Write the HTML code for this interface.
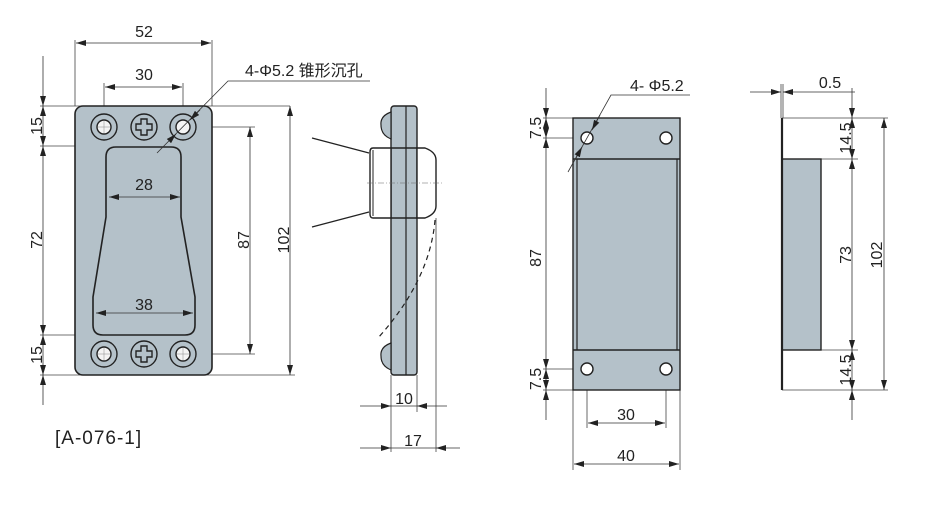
<!DOCTYPE html>
<html><head><meta charset="utf-8"><style>
html,body{margin:0;padding:0;background:#fff;}
svg{display:block}
text{font-family:"Liberation Sans","Noto Sans CJK SC",sans-serif;fill:#222;font-size:16px}
</style></head><body>
<svg width="926" height="523" viewBox="0 0 926 523" xmlns="http://www.w3.org/2000/svg">
<defs>
<marker id="a" viewBox="0 0 10 6" refX="10" refY="3" markerWidth="10" markerHeight="6" orient="auto-start-reverse" markerUnits="userSpaceOnUse"><path d="M0,0 L10,3 L0,6z" fill="#222"/></marker>
</defs>
<g stroke="#444" stroke-width="0.8" fill="none">
<line x1="75" y1="40" x2="75" y2="106"/><line x1="212" y1="40" x2="212" y2="106"/>
<line x1="104" y1="83" x2="104" y2="120"/><line x1="183" y1="83" x2="183" y2="120"/>
<line x1="40" y1="106" x2="290" y2="106"/><line x1="40" y1="146" x2="108" y2="146"/>
<line x1="40" y1="335" x2="93" y2="335"/><line x1="40" y1="375" x2="295" y2="375"/>
<line x1="183" y1="127" x2="255" y2="127"/><line x1="183" y1="354" x2="255" y2="354"/>
</g>
<rect x="75" y="106" width="137" height="269" rx="8" fill="#b4c1c9" stroke="#222" stroke-width="1.6"/>
<path d="M116,147 H171 Q181,147 181,157 V217 L195,297 V325 Q195,335 185,335 H103 Q93,335 93,325 V297 L106,217 V157 Q106,147 116,147Z" fill="#b4c1c9" stroke="#222" stroke-width="1.6"/>
<g stroke="#222" stroke-width="1.4" fill="#b4c1c9">
<circle cx="104" cy="127" r="13"/><circle cx="144" cy="127" r="13"/><circle cx="183" cy="127" r="13"/>
<circle cx="104" cy="354" r="13"/><circle cx="144" cy="354" r="13"/><circle cx="183" cy="354" r="13"/>
<circle cx="104" cy="127" r="7" fill="#f4f4f4"/><circle cx="183" cy="127" r="7" fill="#f4f4f4"/>
<circle cx="104" cy="354" r="7" fill="#f4f4f4"/><circle cx="183" cy="354" r="7" fill="#f4f4f4"/>
<path d="M141,119 h6 v5 h5 v6 h-5 v5 h-6 v-5 h-5 v-6 h5z"/>
<path d="M141,346 h6 v5 h5 v6 h-5 v5 h-6 v-5 h-5 v-6 h5z"/>
</g>
<g stroke="#888" stroke-width="0.5">
<line x1="104" y1="121" x2="104" y2="133"/><line x1="98" y1="127" x2="110" y2="127"/>
<line x1="104" y1="348" x2="104" y2="360"/><line x1="98" y1="354" x2="110" y2="354"/>
<line x1="183" y1="348" x2="183" y2="360"/><line x1="177" y1="354" x2="189" y2="354"/>
</g>
<g stroke="#333" stroke-width="0.8" fill="none">
<line x1="76" y1="43" x2="211" y2="43" marker-start="url(#a)" marker-end="url(#a)"/>
<line x1="105" y1="87" x2="182" y2="87" marker-start="url(#a)" marker-end="url(#a)"/>
<line x1="109" y1="197" x2="180" y2="197" marker-start="url(#a)" marker-end="url(#a)"/>
<line x1="96" y1="313" x2="193" y2="313" marker-start="url(#a)" marker-end="url(#a)"/>
<line x1="43" y1="56" x2="43" y2="106" marker-end="url(#a)"/>
<line x1="43" y1="106" x2="43" y2="146" marker-start="url(#a)" marker-end="url(#a)"/>
<line x1="43" y1="146" x2="43" y2="335" marker-start="url(#a)" marker-end="url(#a)"/>
<line x1="43" y1="335" x2="43" y2="375" marker-start="url(#a)" marker-end="url(#a)"/>
<line x1="43" y1="375" x2="43" y2="405" marker-start="url(#a)"/>
<line x1="250" y1="127" x2="250" y2="354" marker-start="url(#a)" marker-end="url(#a)"/>
<line x1="290" y1="106" x2="290" y2="375" marker-start="url(#a)" marker-end="url(#a)"/>
<polyline points="157,153 228,81 370,81"/>
<line x1="200" y1="110" x2="190" y2="120" marker-end="url(#a)"/>
<line x1="170" y1="140" x2="176" y2="134" marker-end="url(#a)"/>
</g>
<text x="144" y="37" text-anchor="middle">52</text>
<text x="144" y="80" text-anchor="middle">30</text>
<text x="144" y="190" text-anchor="middle">28</text>
<text x="144" y="310" text-anchor="middle">38</text>
<text x="245" y="76">4-Φ5.2 锥形沉孔</text>
<text transform="translate(42,126) rotate(-90)" text-anchor="middle">15</text>
<text transform="translate(42,240) rotate(-90)" text-anchor="middle">72</text>
<text transform="translate(42,355) rotate(-90)" text-anchor="middle">15</text>
<text transform="translate(249,240) rotate(-90)" text-anchor="middle">87</text>
<text transform="translate(289,240) rotate(-90)" text-anchor="middle">102</text>
<text x="55" y="444" style="font-size:19px;letter-spacing:1px">[A-076-1]</text>

<g stroke="#444" stroke-width="0.8" fill="none">
<line x1="391" y1="375" x2="391" y2="452"/><line x1="417" y1="375" x2="417" y2="412"/>
<line x1="436" y1="218" x2="436" y2="452"/>
</g>
<rect x="391" y="106" width="26" height="269" rx="3" fill="#b4c1c9" stroke="#222" stroke-width="1.4"/>
<line x1="406" y1="106" x2="406" y2="375" stroke="#222" stroke-width="1.2"/>
<path d="M391,112 Q380,116 381,125 Q381,135 391,139Z" fill="#b4c1c9" stroke="#222" stroke-width="1.2"/>
<path d="M391,343 Q380,347 381,356 Q381,366 391,370Z" fill="#b4c1c9" stroke="#222" stroke-width="1.2"/>
<path d="M373,148 H391 V218 H373 Q370,218 370,214 V152 Q370,148 373,148Z" fill="#fff" stroke="#222" stroke-width="1.4"/>
<line x1="373" y1="150" x2="373" y2="216" stroke="#222" stroke-width="1"/>
<path d="M417,148 H425 Q436,152 436,160 V206 Q436,214 425,218 H417Z" fill="#fff" stroke="#222" stroke-width="1.4"/>
<line x1="391" y1="148" x2="417" y2="148" stroke="#222" stroke-width="1.4"/>
<line x1="391" y1="218" x2="417" y2="218" stroke="#222" stroke-width="1.4"/>
<line x1="312" y1="138" x2="369" y2="153" stroke="#222" stroke-width="1.2"/>
<line x1="312" y1="227" x2="369" y2="212" stroke="#222" stroke-width="1.2"/>
<line x1="367" y1="183" x2="442" y2="183" stroke="#666" stroke-width="0.6" stroke-dasharray="6,2,1,2"/>
<path d="M435,220 Q430,280 378,338" stroke="#222" stroke-width="1.2" fill="none" stroke-dasharray="5,4"/>
<g stroke="#333" stroke-width="0.8">
<line x1="360" y1="406" x2="391" y2="406" marker-end="url(#a)"/>
<line x1="447" y1="406" x2="417" y2="406" marker-end="url(#a)"/>
<line x1="391" y1="406" x2="417" y2="406"/>
<line x1="360" y1="448" x2="391" y2="448" marker-end="url(#a)"/>
<line x1="460" y1="448" x2="436" y2="448" marker-end="url(#a)"/>
<line x1="391" y1="448" x2="436" y2="448"/>
</g>
<text x="404" y="404" text-anchor="middle">10</text>
<text x="413" y="446" text-anchor="middle">17</text>

<g stroke="#444" stroke-width="0.8" fill="none">
<line x1="543" y1="118" x2="573" y2="118"/><line x1="543" y1="138" x2="587" y2="138"/>
<line x1="543" y1="369" x2="587" y2="369"/><line x1="543" y1="390" x2="573" y2="390"/>
<line x1="573" y1="390" x2="573" y2="470"/><line x1="680" y1="390" x2="680" y2="470"/>
<line x1="587" y1="369" x2="587" y2="428"/><line x1="666" y1="369" x2="666" y2="428"/>
</g>
<rect x="573" y="118" width="107" height="272" fill="#b4c1c9" stroke="#222" stroke-width="1.4"/>
<line x1="573" y1="159" x2="680" y2="159" stroke="#222" stroke-width="1.4"/>
<line x1="573" y1="350" x2="680" y2="350" stroke="#222" stroke-width="1.4"/>
<line x1="577" y1="159" x2="577" y2="350" stroke="#222" stroke-width="1.2"/>
<line x1="677" y1="159" x2="677" y2="350" stroke="#222" stroke-width="1.2"/>
<g stroke="#222" stroke-width="1.4" fill="#fff">
<circle cx="587" cy="138" r="6"/><circle cx="666" cy="138" r="6"/>
<circle cx="587" cy="369" r="6"/><circle cx="666" cy="369" r="6"/>
</g>
<g stroke="#333" stroke-width="0.8" fill="none">
<line x1="546" y1="88" x2="546" y2="118" marker-end="url(#a)"/>
<line x1="546" y1="118" x2="546" y2="138" marker-start="url(#a)" marker-end="url(#a)"/>
<line x1="546" y1="138" x2="546" y2="369" marker-start="url(#a)" marker-end="url(#a)"/>
<line x1="546" y1="369" x2="546" y2="390" marker-start="url(#a)" marker-end="url(#a)"/>
<line x1="546" y1="390" x2="546" y2="420" marker-start="url(#a)"/>
<line x1="588" y1="423" x2="665" y2="423" marker-start="url(#a)" marker-end="url(#a)"/>
<line x1="574" y1="464" x2="679" y2="464" marker-start="url(#a)" marker-end="url(#a)"/>
<polyline points="568,172 611,95 690,95"/>
<line x1="600" y1="115" x2="592" y2="130" marker-end="url(#a)"/>
<line x1="576" y1="158" x2="582" y2="147" marker-end="url(#a)"/>
</g>
<text x="630" y="91">4- Φ5.2</text>
<text x="626" y="420" text-anchor="middle">30</text>
<text x="626" y="461" text-anchor="middle">40</text>
<text transform="translate(541,128) rotate(-90)" text-anchor="middle">7.5</text>
<text transform="translate(541,258) rotate(-90)" text-anchor="middle">87</text>
<text transform="translate(541,379) rotate(-90)" text-anchor="middle">7.5</text>

<g stroke="#444" stroke-width="0.8" fill="none">
<line x1="782" y1="118" x2="888" y2="118"/><line x1="782" y1="390" x2="888" y2="390"/>
<line x1="821" y1="159" x2="858" y2="159"/><line x1="821" y1="350" x2="858" y2="350"/>
<line x1="781" y1="84" x2="781" y2="118"/><line x1="783" y1="84" x2="783" y2="118"/>
</g>
<rect x="782" y="159" width="39" height="191" fill="#b4c1c9" stroke="#222" stroke-width="1.4"/>
<line x1="782" y1="118" x2="782" y2="390" stroke="#222" stroke-width="2.2"/>
<g stroke="#333" stroke-width="0.8" fill="none">
<line x1="750" y1="92" x2="781" y2="92" marker-end="url(#a)"/>
<line x1="855" y1="92" x2="783" y2="92" marker-end="url(#a)"/>
<line x1="852" y1="88" x2="852" y2="118" marker-end="url(#a)"/>
<line x1="852" y1="118" x2="852" y2="159" marker-start="url(#a)" marker-end="url(#a)"/>
<line x1="852" y1="159" x2="852" y2="350" marker-start="url(#a)" marker-end="url(#a)"/>
<line x1="852" y1="350" x2="852" y2="390" marker-start="url(#a)" marker-end="url(#a)"/>
<line x1="852" y1="390" x2="852" y2="420" marker-start="url(#a)"/>
<line x1="884" y1="118" x2="884" y2="390" marker-start="url(#a)" marker-end="url(#a)"/>
</g>
<text x="830" y="88" text-anchor="middle">0.5</text>
<text transform="translate(851,138) rotate(-90)" text-anchor="middle">14.5</text>
<text transform="translate(851,255) rotate(-90)" text-anchor="middle">73</text>
<text transform="translate(851,370) rotate(-90)" text-anchor="middle">14.5</text>
<text transform="translate(882,255) rotate(-90)" text-anchor="middle">102</text>
</svg>
</body></html>
